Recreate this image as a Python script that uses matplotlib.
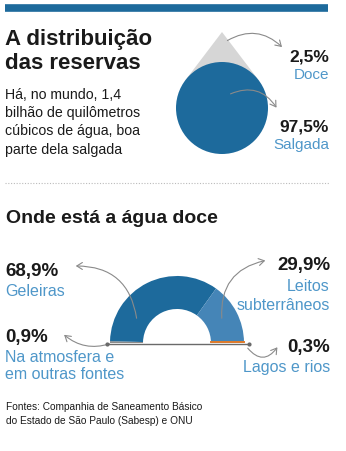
import numpy as np
import matplotlib
matplotlib.use("Agg")
import matplotlib.pyplot as plt
from matplotlib.patches import Wedge, Circle, Polygon, FancyArrowPatch
from matplotlib import font_manager as fm

# ---- data ----
reserve_labels = ["Doce", "Salgada"]
reserve_values = [2.5, 97.5]
reserve_pct = ["2,5%", "97,5%"]

fresh_labels = ["Na atmosfera e\nem outras fontes", "Geleiras", "Leitos\nsubterrâneos", "Lagos e rios"]
fresh_values = [0.9, 68.9, 29.9, 0.3]
fresh_pct = ["0,9%", "68,9%", "29,9%", "0,3%"]

title1 = "A distribuição\ndas reservas"
subtitle1 = "Há, no mundo, 1,4\nbilhão de quilômetros\ncúbicos de água, boa\nparte dela salgada"
title2 = "Onde está a água doce"
source = "Fontes: Companhia de Saneamento Básico\ndo Estado de São Paulo (Sabesp) e ONU"

# ---- style ----
names = {f.name for f in fm.fontManager.ttflist}
FONT = "Liberation Sans" if "Liberation Sans" in names else "DejaVu Sans"
NARROW = "Liberation Sans Narrow" if "Liberation Sans Narrow" in names else FONT
plt.rcParams["font.family"] = [FONT, "DejaVu Sans"]

DARK = "#1d6a9c"
MID = "#4585b7"
LIGHT_TXT = "#4f97c9"
GRAY = "#d6d6d6"
ORANGE = "#e07b2a"
TXT = "#1a1a1a"
ARW = "#8a8a8a"

W, H = 346, 452
fig = plt.figure(figsize=(W / 100, H / 100), dpi=100)
ax = fig.add_axes([0, 0, 1, 1])
ax.set_xlim(0, W)
ax.set_ylim(H, 0)
ax.axis("off")

# top bar
ax.plot([5, 328], [9, 9], color=DARK, lw=5.5, solid_capstyle="butt")

# titles
ax.text(5, 29, title1, fontsize=16, fontweight="bold", color=TXT, va="top", ha="left", linespacing=1.2)
ax.text(5, 88, subtitle1, fontsize=10.2, color=TXT, va="top", ha="left", linespacing=1.38)

# drop chart
cx, cy, r = 222, 109, 46
tip = (222, 33)
d = cy - tip[1]
th = np.arccos(r / d)
pL = (cx - r * np.sin(th), cy - r * np.cos(th))
pR = (cx + r * np.sin(th), cy - r * np.cos(th))
ax.add_patch(Polygon([tip, pL, (cx, cy), pR], closed=True, color=GRAY, lw=0))
ax.add_patch(Circle((cx, cy), r, color=DARK, lw=0))

ax.text(329, 57, reserve_pct[0], fontsize=12.5, fontweight="bold", color=TXT, ha="right", va="center")
ax.text(329, 75, reserve_labels[0], fontsize=11, color=LIGHT_TXT, ha="right", va="center")
ax.text(329, 127, reserve_pct[1], fontsize=12.5, fontweight="bold", color=TXT, ha="right", va="center")
ax.text(329, 145, reserve_labels[1], fontsize=11, color=LIGHT_TXT, ha="right", va="center")

def arrow(p0, p1, rad):
    ax.add_patch(FancyArrowPatch(p0, p1, connectionstyle=f"arc3,rad={rad}",
                                 arrowstyle="->,head_length=4,head_width=2.5",
                                 color=ARW, lw=0.8, mutation_scale=1))

arrow((225, 43), (284, 50), -0.4)
arrow((228, 96), (278, 111), -0.45)

# dotted separator
ax.plot([5, 330], [184, 184], color="#bbbbbb", lw=0.8, ls=(0, (1, 1.5)))

ax.text(6, 219, title2, fontsize=14, fontweight="bold", color=TXT, ha="left", va="center")

# half donut (y axis is inverted, so angles are negated)
dcx, dcy, R, rin = 177, 344, 67, 34
colors = ["#8c8c8c", DARK, MID, ORANGE]
start = 180.0
total = sum(fresh_values)
for v, c in zip(fresh_values, colors):
    span = 180.0 * v / total
    end = start - span
    ax.add_patch(Wedge((dcx, dcy), R, -start, -end, width=R - rin, color=c, lw=0))
    start = end
# emphasise the tiny segment as a thin line
ax.plot([dcx + rin, dcx + R], [dcy - 1, dcy - 1], color=ORANGE, lw=1.4)
# baseline
ax.plot([107, 249], [dcy + 1, dcy + 1], color="#6a6a6a", lw=1.0, marker="o", ms=2, markevery=[0, 1])

# labels
LS = 11.5
ax.text(5, 272, fresh_pct[1], fontsize=13.5, fontweight="bold", color=TXT, ha="left", va="center")
ax.text(5, 292, fresh_labels[1], fontsize=LS, color=LIGHT_TXT, ha="left", va="center")
ax.text(330, 266, fresh_pct[2], fontsize=13.5, fontweight="bold", color=TXT, ha="right", va="center")
ax.text(330, 296, fresh_labels[2], fontsize=LS, color=LIGHT_TXT, ha="right", va="center", linespacing=1.3)
ax.text(5, 338, fresh_pct[0], fontsize=13.5, fontweight="bold", color=TXT, ha="left", va="center")
ax.text(5, 366, fresh_labels[0], fontsize=LS, color=LIGHT_TXT, ha="left", va="center", linespacing=1.1)
ax.text(330, 348, fresh_pct[3], fontsize=13.5, fontweight="bold", color=TXT, ha="right", va="center")
ax.text(330, 368, fresh_labels[3], fontsize=LS, color=LIGHT_TXT, ha="right", va="center")

arrow((137, 322), (73, 267), 0.45)
arrow((222, 322), (268, 261), -0.45)
arrow((112, 344), (62, 334), -0.3)
arrow((246, 347), (279, 346), 0.7)

ax.text(6, 414, source, fontsize=7.3, family=[NARROW, "DejaVu Sans"], color=TXT, ha="left", va="center", linespacing=1.45)

fig.savefig("out.png", dpi=100, facecolor="white")
